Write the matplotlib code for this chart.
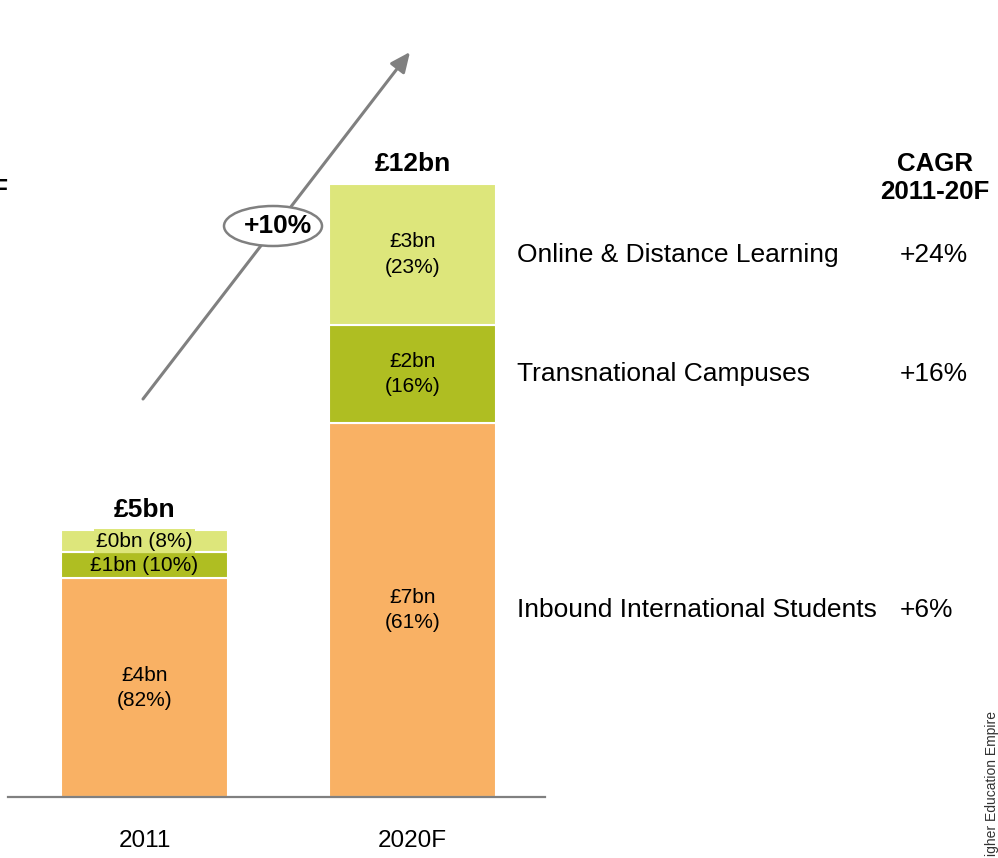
import matplotlib
matplotlib.use("Agg")
import matplotlib.pyplot as plt
import matplotlib.transforms as mtransforms
from matplotlib.patches import Ellipse, FancyArrowPatch

# ---------------- data ----------------
years = ['2011', '2020F']
segment_names = ['Inbound International Students', 'Transnational Campuses',
                 'Online & Distance Learning']
inbound = [4.28, 7.32]
transnational = [0.52, 1.92]
online = [0.42, 2.76]
total_labels = ['£5bn', '£12bn']
inbound_labels = ['£4bn\n(82%)', '£7bn\n(61%)']
trans_labels = ['£1bn (10%)', '£2bn\n(16%)']
online_labels = ['£0bn (8%)', '£3bn\n(23%)']
cagr_values = ['+6%', '+16%', '+24%']
overall_cagr = '+10%'
cagr_header = 'CAGR\n2011-20F'
source_text = 'Higher Education Empire'

# ---------------- style ----------------
plt.rcParams['font.family'] = ['Liberation Sans', 'DejaVu Sans']
C_ORANGE = '#F9B164'
C_GREEN = '#AFBE22'
C_LIGHT = '#DDE67B'
GRAY = '#808080'

W, H = 998, 858
fig = plt.figure(figsize=(W / 100, H / 100), dpi=100)


def fx(x):
    return x / W


def fy(y):
    return 1 - y / H


ax = fig.add_axes([fx(8), 61 / H, 537 / W, 766 / H])
ax.set_xlim(-0.509, 1.494)
ax.set_ylim(0, 15)

x = list(range(len(years)))
bw = 0.62
bottoms2 = [a + b for a, b in zip(inbound, transnational)]
ax.bar(x, inbound, width=bw, color=C_ORANGE, edgecolor='white', linewidth=1.5, zorder=2)
ax.bar(x, transnational, width=bw, bottom=inbound, color=C_GREEN,
       edgecolor='white', linewidth=1.5, zorder=2)
ax.bar(x, online, width=bw, bottom=bottoms2, color=C_LIGHT,
       edgecolor='white', linewidth=1.5, zorder=2)

lab_fs = 15
for i in x:
    ax.text(i, inbound[i] / 2, inbound_labels[i], ha='center', va='center',
            fontsize=lab_fs, linespacing=1.38, zorder=4)
    ax.text(i, inbound[i] + transnational[i] / 2, trans_labels[i], ha='center',
            va='center', fontsize=lab_fs, linespacing=1.4, zorder=4)
    kw = {}
    if i == 0:
        kw['bbox'] = dict(boxstyle='square,pad=0.12', fc=C_LIGHT, ec='none')
    ax.text(i, bottoms2[i] + online[i] / 2, online_labels[i], ha='center',
            va='center', fontsize=lab_fs, linespacing=1.45, zorder=4, **kw)
    total = inbound[i] + transnational[i] + online[i]
    ax.annotate(total_labels[i], (i, total), xytext=(0, 14.5),
                textcoords='offset points', ha='center', va='center',
                fontsize=19, fontweight='bold')

# axes styling
for s in ['top', 'right', 'left']:
    ax.spines[s].set_visible(False)
ax.spines['bottom'].set_color(GRAY)
ax.spines['bottom'].set_linewidth(1.6)
ax.set_yticks([])
ax.set_xticks(x)
ax.set_xticklabels(years, fontsize=17.5)
ax.tick_params(axis='x', length=0, pad=23.5)
ax.patch.set_alpha(0)

# right-side segment labels and CAGR values
bt = mtransforms.blended_transform_factory(fig.transFigure, ax.transData)
centers = [inbound[1] / 2, inbound[1] + transnational[1] / 2,
           bottoms2[1] + online[1] / 2]
for name, yc, cg in zip(segment_names, centers, cagr_values):
    fig.text(fx(517), yc, name, transform=bt, ha='left', va='center', fontsize=19)
    fig.text(fx(900), yc, cg, transform=bt, ha='left', va='center', fontsize=19)

fig.text(fx(935), fy(178), cagr_header, ha='center', va='center', fontsize=18.6,
         fontweight='bold', linespacing=1.25)
fig.text(fx(8), fy(190), '2011-20F', ha='right', va='center', fontsize=19,
         fontweight='bold')

# growth arrow with ellipse
arrow = FancyArrowPatch((fx(143), fy(399)), (fx(410), fy(52)),
                        transform=fig.transFigure, shrinkA=0, shrinkB=0,
                        arrowstyle='-|>,head_length=1.0,head_width=0.45',
                        mutation_scale=12, color=GRAY, linewidth=2.2, zorder=5)
fig.add_artist(arrow)
ell = Ellipse((fx(273), fy(226)), 98 / W, 40 / H, transform=fig.transFigure,
              facecolor='white', edgecolor=GRAY, linewidth=1.8, zorder=6)
fig.add_artist(ell)
fig.text(fx(278), fy(226), overall_cagr, ha='center', va='center', fontsize=19,
         fontweight='bold', zorder=7)

# source (clipped vertical text)
fig.text(fx(985), fy(711), source_text, rotation=90, ha='left', va='top',
         fontsize=10, color='#333333')

fig.savefig('out.png', dpi=100)
